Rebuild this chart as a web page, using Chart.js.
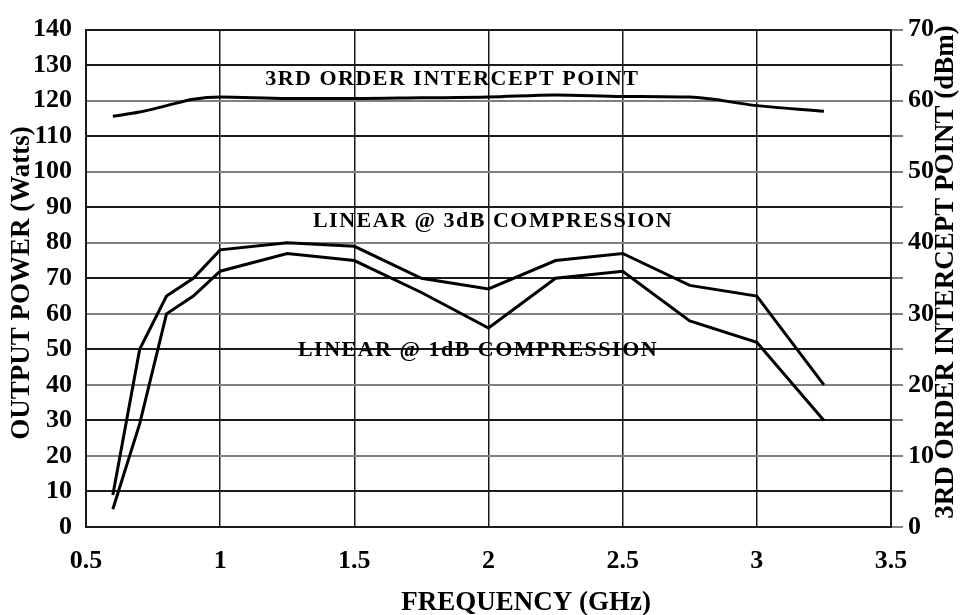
<!DOCTYPE html>
<html>
<head>
<meta charset="utf-8">
<script src="https://cdn.jsdelivr.net/npm/chart.js@4.4.1/dist/chart.umd.min.js"></script>
<style>
  body { margin: 0; background: #fff; }
  canvas { display: block; }
</style>
</head>
<body>
<canvas id="myChart" width="965" height="615"></canvas>
<script>
// values
const frequencies = [0.6, 0.7, 0.8, 0.9, 1.0, 1.25, 1.5, 1.75, 2.0, 2.25, 2.5, 2.75, 3.0, 3.25]; // GHz
const intercept3rd = [57.8, 58.4, 59.3, 60.2, 60.5, 60.3, 60.3, 60.4, 60.5, 60.8, 60.6, 60.5, 59.3, 58.5]; // dBm
const linear3dB = [9, 50, 65, 70, 78, 80, 79, 70, 67, 75, 77, 68, 65, 40]; // Watts
const linear1dB = [5, 29, 60, 65, 72, 77, 75, 66, 56, 70, 72, 58, 52, 30]; // Watts

const curveNames = ["3RD ORDER INTERCEPT POINT", "LINEAR @ 3dB COMPRESSION", "LINEAR @ 1dB COMPRESSION"];
const axisTitles = ["FREQUENCY (GHz)", "OUTPUT POWER (Watts)", "3RD ORDER INTERCEPT POINT (dBm)"];

const serif = "'Liberation Serif', 'Times New Roman', serif";
const dark = "#1a1a1a";
const grey = "#808080";

function toPoints(values) {
  return frequencies.map((f, i) => ({ x: f, y: values[i] }));
}

const textPlugin = {
  id: "chartText",
  afterDatasetsDraw(chart) {
    const { ctx, scales } = chart;
    const x = scales.x;
    const y = scales.y;
    ctx.save();
    ctx.fillStyle = "#000";
    ctx.textAlign = "center";
    ctx.textBaseline = "middle";

    // curve names
    ctx.font = `bold 22px ${serif}`;
    ctx.letterSpacing = "1.5px";
    ctx.fillText(curveNames[0], x.getPixelForValue(1.865), y.getPixelForValue(125.9));
    ctx.fillText(curveNames[1], x.getPixelForValue(2.017), y.getPixelForValue(86.1));
    ctx.fillText(curveNames[2], x.getPixelForValue(1.961), y.getPixelForValue(49.8));

    // axis titles
    ctx.letterSpacing = "0px";
    ctx.font = `bold 27px ${serif}`;
    ctx.fillText(axisTitles[0], x.getPixelForValue(2.14), chart.height - 12);

    ctx.save();
    ctx.translate(22, 283);
    ctx.rotate(-Math.PI / 2);
    ctx.fillText(axisTitles[1], 0, 0);
    ctx.restore();

    ctx.save();
    ctx.translate(946, 272);
    ctx.rotate(-Math.PI / 2);
    ctx.fillText(axisTitles[2], 0, 0);
    ctx.restore();

    ctx.restore();
  },
};

const ctx = document.getElementById("myChart").getContext("2d");
const chart = new Chart(ctx, {
  type: "line",
  data: {
    datasets: [
      {
        label: curveNames[0],
        data: toPoints(intercept3rd),
        yAxisID: "y2",
        borderColor: "#000",
        borderWidth: 3,
        pointRadius: 0,
        cubicInterpolationMode: "monotone",
      },
      {
        label: curveNames[1],
        data: toPoints(linear3dB),
        yAxisID: "y",
        borderColor: "#000",
        borderWidth: 3,
        pointRadius: 0,
      },
      {
        label: curveNames[2],
        data: toPoints(linear1dB),
        yAxisID: "y",
        borderColor: "#000",
        borderWidth: 3,
        pointRadius: 0,
      },
    ],
  },
  options: {
    responsive: false,
    animation: false,
    layout: { padding: { top: 22, left: 0, right: 0, bottom: 0 } },
    plugins: { legend: { display: false }, tooltip: { enabled: false } },
    scales: {
      x: {
        type: "linear",
        min: 0.5,
        max: 3.5,
        afterFit: (scale) => { scale.height = 88; },
        ticks: {
          stepSize: 0.5,
          padding: 19,
          color: "#000",
          font: { family: serif, size: 26, weight: "bold" },
          callback: (v) => String(v),
        },
        grid: { drawTicks: false, color: dark, lineWidth: 1.5 },
        border: { color: dark, width: 2 },
      },
      y: {
        position: "left",
        min: 0,
        max: 140,
        afterFit: (scale) => { scale.width = 86; },
        ticks: { stepSize: 10, padding: 14, color: "#000", font: { family: serif, size: 26, weight: "bold" } },
        grid: {
          drawTicks: false,
          lineWidth: 2,
          color: (c) => {
            const v = c.tick ? c.tick.value : 0;
            if (v === 0 || v === 140) return dark;
            return v % 20 === 0 ? grey : dark;
          },
        },
        border: { color: dark, width: 2 },
      },
      y2: {
        position: "right",
        min: 0,
        max: 70,
        afterFit: (scale) => { scale.width = 74; },
        ticks: {
          stepSize: 5,
          padding: 5,
          color: "#000",
          font: { family: serif, size: 26, weight: "bold" },
          callback: (v) => (v % 10 === 0 ? v : ""),
        },
        grid: { drawOnChartArea: false, tickLength: 12, color: grey, lineWidth: 2 },
        border: { color: dark, width: 2 },
      },
    },
  },
  plugins: [textPlugin],
});
</script>
</body>
</html>
